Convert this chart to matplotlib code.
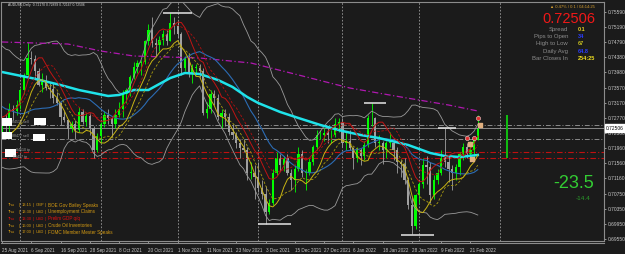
import matplotlib
matplotlib.use("Agg")
import matplotlib.pyplot as plt
import numpy as np
import pandas as pd
from matplotlib.patches import Rectangle
from matplotlib.lines import Line2D

plt.rcParams['font.family'] = ['Liberation Sans', 'DejaVu Sans']

W, H = 625, 254

# AUDUSD daily candles, 25 Aug 2021 .. 23 Feb 2022 (one entry per bar)
opens = [0.7230, 0.7272, 0.7255, 0.7300, 0.7296, 0.7312, 0.7350, 0.7390, 0.7435, 0.7432,
         0.7400, 0.7365, 0.7373, 0.7356, 0.7352, 0.7330, 0.7316, 0.7280, 0.7271, 0.7248,
         0.7260, 0.7245, 0.7292, 0.7266, 0.7281, 0.7250, 0.7190, 0.7228, 0.7260, 0.7285,
         0.7275, 0.7260, 0.7285, 0.7300, 0.7340, 0.7350, 0.7385, 0.7412, 0.7422, 0.7425,
         0.7480, 0.7510, 0.7475, 0.7470, 0.7485, 0.7500, 0.7480, 0.7530, 0.7520, 0.7500,
         0.7410, 0.7435, 0.7395, 0.7410, 0.7410, 0.7400, 0.7290, 0.7300, 0.7340, 0.7330,
         0.7280, 0.7290, 0.7280, 0.7240, 0.7230, 0.7210, 0.7195, 0.7190, 0.7130, 0.7130,
         0.7120, 0.7090, 0.7075, 0.7025, 0.7050, 0.7130, 0.7170, 0.7150, 0.7170, 0.7130,
         0.7110, 0.7140, 0.7180, 0.7130, 0.7130, 0.7160, 0.7200, 0.7230, 0.7230, 0.7235,
         0.7230, 0.7230, 0.7260, 0.7265, 0.7210, 0.7215, 0.7195, 0.7170, 0.7190, 0.7175,
         0.7205, 0.7275, 0.7275, 0.7210, 0.7210, 0.7190, 0.7210, 0.7210, 0.7190, 0.7160,
         0.7155, 0.7110, 0.7045, 0.6990, 0.7070, 0.7100, 0.7150, 0.7145, 0.7070, 0.7110,
         0.7130, 0.7170, 0.7160, 0.7140, 0.7130, 0.7145, 0.7180, 0.7200, 0.7180, 0.7190,
         0.72170]
highs = [0.7278, 0.7287, 0.7315, 0.7310, 0.7323, 0.7357, 0.7395, 0.7478, 0.7455, 0.7443,
         0.7410, 0.7395, 0.7390, 0.7370, 0.7368, 0.7345, 0.7320, 0.7295, 0.7272, 0.7269,
         0.7270, 0.7305, 0.7300, 0.7290, 0.7290, 0.7255, 0.7235, 0.7265, 0.7295, 0.7300,
         0.7280, 0.7300, 0.7320, 0.7350, 0.7355, 0.7390, 0.7425, 0.7430, 0.7430, 0.7485,
         0.7525, 0.7545, 0.7490, 0.7495, 0.7510, 0.7510, 0.7556, 0.7545, 0.7535, 0.7505,
         0.7440, 0.7450, 0.7420, 0.7420, 0.7420, 0.7410, 0.7320, 0.7350, 0.7350, 0.7340,
         0.7300, 0.7300, 0.7290, 0.7260, 0.7240, 0.7220, 0.7220, 0.7200, 0.7160, 0.7150,
         0.7160, 0.7110, 0.7095, 0.7060, 0.7140, 0.7185, 0.7180, 0.7175, 0.7180, 0.7140,
         0.7150, 0.7200, 0.7190, 0.7140, 0.7170, 0.7205, 0.7245, 0.7245, 0.7250, 0.7255,
         0.7245, 0.7275, 0.7275, 0.7275, 0.7240, 0.7245, 0.7200, 0.7200, 0.7195, 0.7215,
         0.7285, 0.7315, 0.7280, 0.7230, 0.7215, 0.7215, 0.7240, 0.7215, 0.7200, 0.7165,
         0.7170, 0.7120, 0.7065, 0.7075, 0.7105, 0.7170, 0.7175, 0.7160, 0.7125, 0.7140,
         0.7190, 0.7250, 0.7175, 0.7150, 0.7155, 0.7185, 0.7210, 0.7210, 0.7215, 0.7220,
         0.72839]
lows = [0.7222, 0.7240, 0.7225, 0.7272, 0.7285, 0.7300, 0.7340, 0.7380, 0.7420, 0.7383,
        0.7360, 0.7345, 0.7350, 0.7330, 0.7317, 0.7310, 0.7258, 0.7265, 0.7220, 0.7240,
        0.7220, 0.7240, 0.7260, 0.7255, 0.7230, 0.7170, 0.7185, 0.7210, 0.7252, 0.7260,
        0.7225, 0.7250, 0.7280, 0.7280, 0.7315, 0.7335, 0.7380, 0.7395, 0.7390, 0.7420,
        0.7470, 0.7465, 0.7440, 0.7455, 0.7470, 0.7470, 0.7480, 0.7500, 0.7490, 0.7390,
        0.7400, 0.7385, 0.7370, 0.7390, 0.7385, 0.7285, 0.7275, 0.7290, 0.7310, 0.7270,
        0.7250, 0.7255, 0.7230, 0.7220, 0.7195, 0.7170, 0.7185, 0.7110, 0.7115, 0.7060,
        0.7080, 0.7060, 0.6993, 0.7020, 0.7045, 0.7125, 0.7135, 0.7135, 0.7125, 0.7085,
        0.7080, 0.7135, 0.7120, 0.7085, 0.7125, 0.7150, 0.7190, 0.7220, 0.7215, 0.7210,
        0.7210, 0.7225, 0.7240, 0.7200, 0.7190, 0.7190, 0.7140, 0.7160, 0.7150, 0.7165,
        0.7200, 0.7255, 0.7200, 0.7190, 0.7155, 0.7170, 0.7200, 0.7165, 0.7130, 0.7120,
        0.7100, 0.7035, 0.6967, 0.6980, 0.7050, 0.7090, 0.7100, 0.7050, 0.7060, 0.7100,
        0.7125, 0.7145, 0.7105, 0.7085, 0.7110, 0.7125, 0.7165, 0.7170, 0.7170, 0.7165,
        0.72167]
closes = [0.7272, 0.7255, 0.7300, 0.7296, 0.7312, 0.7350, 0.7390, 0.7435, 0.7432, 0.7400,
          0.7365, 0.7373, 0.7356, 0.7352, 0.7330, 0.7316, 0.7280, 0.7271, 0.7248, 0.7260,
          0.7245, 0.7292, 0.7266, 0.7281, 0.7250, 0.7190, 0.7228, 0.7260, 0.7285, 0.7275,
          0.7260, 0.7285, 0.7300, 0.7340, 0.7350, 0.7385, 0.7412, 0.7422, 0.7425, 0.7480,
          0.7510, 0.7475, 0.7470, 0.7485, 0.7500, 0.7480, 0.7530, 0.7520, 0.7500, 0.7410,
          0.7435, 0.7395, 0.7410, 0.7410, 0.7400, 0.7290, 0.7300, 0.7340, 0.7330, 0.7280,
          0.7290, 0.7280, 0.7240, 0.7230, 0.7210, 0.7195, 0.7190, 0.7130, 0.7130, 0.7120,
          0.7090, 0.7075, 0.7025, 0.7050, 0.7130, 0.7170, 0.7150, 0.7170, 0.7130, 0.7110,
          0.7140, 0.7180, 0.7130, 0.7130, 0.7160, 0.7200, 0.7230, 0.7230, 0.7235, 0.7230,
          0.7230, 0.7260, 0.7265, 0.7210, 0.7215, 0.7195, 0.7170, 0.7190, 0.7175, 0.7205,
          0.7275, 0.7275, 0.7210, 0.7210, 0.7190, 0.7210, 0.7210, 0.7190, 0.7160, 0.7155,
          0.7110, 0.7045, 0.6990, 0.7070, 0.7100, 0.7150, 0.7145, 0.7070, 0.7110, 0.7130,
          0.7170, 0.7160, 0.7140, 0.7130, 0.7145, 0.7180, 0.7200, 0.7180, 0.7190, 0.7217,
          0.72506]

# closes of the 20 bars before the first visible one (indicator warm-up only)
pre_closes = [0.7370, 0.7380, 0.7340, 0.7390, 0.7380, 0.7390, 0.7400, 0.7345, 0.7335, 0.7345,
              0.7350, 0.7345, 0.7345, 0.7330, 0.7265, 0.7230, 0.7150, 0.7130, 0.7180, 0.7230]

# slow lines (bar index, price)
cyan_idx = [0, 8, 16, 21, 25, 29, 32, 36, 40, 46, 50, 54, 59, 63, 67, 70, 76, 81, 87, 93,
            98, 103, 111, 117, 121, 125, 130]
cyan_val = [0.73985, 0.73826, 0.73639, 0.73506, 0.73427, 0.73347, 0.73374, 0.73506, 0.73506,
            0.73826, 0.73959, 0.73932, 0.73773, 0.73586, 0.73320, 0.73160, 0.72921, 0.72761,
            0.72575, 0.72415, 0.72309, 0.72228, 0.72042, 0.71830, 0.71750, 0.71723, 0.71777]
magenta_idx = [0, 18, 27, 36, 54, 68, 81, 95, 109, 122, 130]
magenta_val = [0.74784, 0.74730, 0.74544, 0.74411, 0.74358, 0.74225, 0.73906, 0.73560,
               0.73320, 0.73107, 0.72948]

# swing high / low markers: start bar, end bar, price
swing_start = [44, 70, 99, 109, 119]
swing_end = [52, 79, 105, 118, 124]
swing_price = [0.75550, 0.69940, 0.73160, 0.69660, 0.72490]

# order lines
sell_lines = [0.72575, 0.72195]
tp_lines = [0.71857, 0.71689]
order_labels = ["84510 sell", "88477 sell", "84510 tp", "88477 tp"]

month_starts = [5, 27, 48, 70, 93, 114, 136]
date_ticks = list(range(0, 129, 8))
date_labels = ["25 Aug 2021", "6 Sep 2021", "16 Sep 2021", "28 Sep 2021", "8 Oct 2021",
               "20 Oct 2021", "1 Nov 2021", "11 Nov 2021", "23 Nov 2021", "3 Dec 2021",
               "15 Dec 2021", "27 Dec 2021", "6 Jan 2022", "18 Jan 2022", "28 Jan 2022",
               "9 Feb 2022", "21 Feb 2022"]
price_ticks = [0.75590, 0.75190, 0.74790, 0.74380, 0.73980, 0.73570, 0.73170, 0.72770,
               0.72360, 0.71960, 0.71560, 0.71160, 0.70750, 0.70350, 0.69950, 0.69550]

# signal markers near the last bars
dot_idx = [130, 127, 129]
dot_val = [0.7276, 0.7223, 0.7223]
sq_idx = [130.5, 128, 128.5]
sq_val = [0.7258, 0.7207, 0.7167]

calendar = [("Thu", "13:15", "GBP", "BOE Gov Bailey Speaks"),
            ("Thu", "13:30", "USD", "Unemployment Claims"),
            ("Thu", "13:30", "USD", "Prelim GDP q/q"),
            ("Thu", "16:00", "USD", "Crude Oil Inventories"),
            ("Thu", "17:00", "USD", "FOMC Member Mester Speaks")]
calendar_colors = ["#d49a12", "#d49a12", "#e01010", "#d49a12", "#d49a12"]

info_names = ["Spread", "Pips to Open", "High to Low", "Daily Avg", "Bar Closes In"]
info_values = ["0.1", "34", "67", "64.8", "254:25"]
info_colors = ["#e8d020", "#2a3cff", "#c8c020", "#2a3cff", "#f0e020"]

BG = "#1b1b1b"
BULL = "#00ff00"
BEAR = "#a0a0a0"
FRAME = "#8c8c8c"


def fx(x):
    return x / W


def fy(y):
    return 1 - y / H


o = np.array(opens)
h = np.array(highs)
l = np.array(lows)
c = np.array(closes)
idx = np.arange(len(c))

# indicators
full = pd.Series(pre_closes + closes)
npre = len(pre_closes)
sma20 = full.rolling(20).mean().to_numpy()[npre:]
sd20 = full.rolling(20).std(ddof=0).to_numpy()[npre:]
bb_up = sma20 + 2 * sd20
bb_dn = sma20 - 2 * sd20
hi5 = pd.Series(highs).rolling(5, min_periods=1).mean()
hi8 = pd.Series(highs).rolling(8, min_periods=1).mean()
lo5 = pd.Series(lows).rolling(5, min_periods=1).mean()
lo8 = pd.Series(lows).rolling(8, min_periods=1).mean()

fig = plt.figure(figsize=(W / 100, H / 100), dpi=100, facecolor=BG)
ax = fig.add_axes([fx(1), 1 - 241 / H, (604 - 1) / W, (241 - 1.7) / H])
ax.set_facecolor(BG)
ax.set_xlim((1 - 2) / 3.66, (604 - 2) / 3.66)
ax.set_ylim(0.69488, 0.75856)

for s in ax.spines.values():
    s.set_color(FRAME)
    s.set_linewidth(0.8)

# month separators
for m in month_starts:
    ax.axvline(m, color="#9a9a9a", lw=0.6, ls=(0, (2, 2)))

# order lines
for p in sell_lines:
    ax.axhline(p, color="#8a8a8a", lw=0.7, ls=(0, (5, 2, 1, 2)))
for p in tp_lines:
    ax.axhline(p, color="#c01010", lw=0.8, ls=(0, (5, 2, 1, 2)))
ax.axhline(closes[-1], color="#9a9a9a", lw=0.6)

# candles
up = c >= o
col = np.where(up, BULL, BEAR)
ax.vlines(idx, l, h, colors=col, lw=0.6)
body = np.maximum(np.abs(c - o), 0.00012)
ax.bar(idx, body, bottom=np.minimum(o, c), width=0.62, color=col, lw=0)

# indicator lines
ax.plot(idx, bb_up, color="#9a9a9a", lw=0.6)
ax.plot(idx, bb_dn, color="#9a9a9a", lw=0.6)
ax.plot(magenta_idx, magenta_val, color="#b018b0", lw=0.9, ls=(0, (5, 2, 1, 2)))
ax.plot(idx, sma20, color="#2c6cb4", lw=0.8)
ax.plot(cyan_idx, cyan_val, color="#1fe3ea", lw=1.8)
ax.plot(idx, hi8, color="#b01010", lw=0.6, ls=(0, (3, 2)))
ax.plot(idx, hi5, color="#c01414", lw=0.7)
ax.plot(idx, lo8, color="#a89a10", lw=0.6, ls=(0, (3, 2)))
ax.plot(idx, lo5, color="#c8b414", lw=0.7)

# swing markers
ax.hlines(swing_price, swing_start, swing_end, colors="#e6e6e6", lw=1.1)

# signal markers
ax.scatter(dot_idx, dot_val, s=9, color="#e03030", edgecolors="#f0d0d0", linewidths=0.4, zorder=5)
ax.scatter(sq_idx, sq_val, s=6, marker="s", color="#e0b080", zorder=5)

# projected range bar
ax.vlines(138, 0.71700, 0.72839, color="#10c010", lw=1.4)

# axes ticks
ax.yaxis.tick_right()
ax.set_yticks(price_ticks)
ax.set_yticklabels([f"{p:.5f}" for p in price_ticks])
ax.tick_params(axis="y", colors="#c8c8c8", labelsize=3.5, length=1.5, width=0.5, pad=1.2)
ax.set_xticks(date_ticks)
ax.set_xticklabels(date_labels)
for t in ax.get_xticklabels():
    t.set_horizontalalignment("left")
ax.tick_params(axis="x", colors="#c8c8c8", labelsize=3.3, length=1.5, width=0.5, pad=3.5)

# second bottom line
fig.add_artist(Line2D([fx(1), fx(604)], [fy(243.4), fy(243.4)], color=FRAME, lw=0.8))

# current price tag on the scale
fig.text(fx(606), fy(128), f"{closes[-1]:.5f}", fontsize=3.5, color="black", va="center",
         ha="left", bbox=dict(boxstyle="square,pad=0.25", fc="white", ec="white"))

# title
fig.text(fx(8), fy(5), "AUDUSD,Daily  0.72170 0.72839 0.72167 0.72506", fontsize=2.4,
         color="#d8d8d8", va="center", ha="left")

# order labels with redacted boxes
lab_y = [122, 136, 150, 157]
lab_x = [12, 12, 16, 13]
for y, x, s in zip(lab_y, lab_x, order_labels):
    fig.text(fx(x), fy(y), s, fontsize=2.6, color="#a0a0a0", va="center", ha="left")
for (x0, y0, x1, y1) in [(2, 118, 12, 126), (34, 118, 46, 125), (2, 132, 12, 139),
                         (33, 134, 45, 141), (5, 149, 16, 157)]:
    fig.add_artist(Rectangle((fx(x0), fy(y1)), (x1 - x0) / W, (y1 - y0) / H,
                             transform=fig.transFigure, fc="white", ec="none"))

# info panel
fig.text(fx(595), fy(7), "\u25b2 0.47% / 0.1 / 04:14:25", fontsize=3.0, color="#d8a030",
         va="center", ha="right")
fig.text(fx(595), fy(19), "0.72506", fontsize=10.5, color="#f01818", va="center", ha="right")
for k, (name, val, vc) in enumerate(zip(info_names, info_values, info_colors)):
    y = 29.3 + k * 7.25
    fig.text(fx(568), fy(y), name, fontsize=4.3, color="#8c8c8c", va="center", ha="right")
    fig.text(fx(577.5), fy(y), val, fontsize=4.0, color=vc, va="center", ha="left",
             fontweight="bold")

fig.text(fx(594), fy(184), "-23.5", fontsize=13, color="#33cc33", va="center", ha="right")
fig.text(fx(590), fy(198), "-14.4", fontsize=4.6, color="#2a9a2a", va="center", ha="right")

# economic calendar
for k, (row, rc) in enumerate(zip(calendar, calendar_colors)):
    y = 205 + k * 6.85
    day, tm, cur, ev = row
    for x, s in [(8, day), (19, "|"), (22, tm), (33, "|"), (36, cur), (45, "|")]:
        fig.text(fx(x), fy(y), s, fontsize=2.9, color=rc, va="center", ha="left")
    fig.text(fx(48), fy(y), ev, fontsize=3.3, color=rc, va="center", ha="left")

fig.savefig("out.png", dpi=100, facecolor=BG)
